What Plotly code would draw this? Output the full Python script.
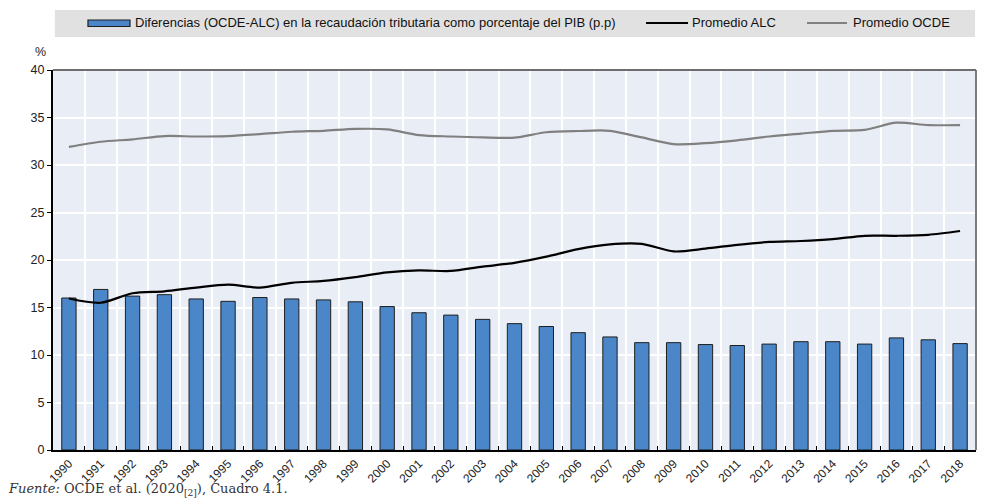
import plotly.graph_objects as go

years = [str(y) for y in range(1990, 2019)]
diferencias = [16.0, 16.9, 16.2, 16.35, 15.9, 15.65, 16.05, 15.9, 15.8, 15.6,
               15.1, 14.45, 14.2, 13.75, 13.3, 13.0, 12.35, 11.9, 11.3, 11.3,
               11.1, 11.0, 11.15, 11.4, 11.4, 11.15, 11.8, 11.6, 11.2]
promedio_alc = [15.95, 15.5, 16.5, 16.7, 17.1, 17.4, 17.1, 17.6, 17.8, 18.2,
                18.7, 18.9, 18.85, 19.3, 19.7, 20.35, 21.15, 21.65, 21.7, 20.9,
                21.2, 21.6, 21.9, 22.0, 22.2, 22.55, 22.55, 22.65, 23.05]
promedio_ocde = [31.9, 32.45, 32.7, 33.05, 33.0, 33.05, 33.25, 33.5, 33.6, 33.8,
                 33.75, 33.15, 33.0, 32.9, 32.88, 33.45, 33.58, 33.6, 32.9, 32.2,
                 32.3, 32.6, 33.0, 33.3, 33.6, 33.7, 34.45, 34.2, 34.2]
y_ticks = [0, 5, 10, 15, 20, 25, 30, 35, 40]

name_bar = "Diferencias (OCDE-ALC) en la recaudación tributaria como porcentaje del PIB (p.p)"
name_alc = "Promedio ALC"
name_ocde = "Promedio OCDE"

BAR_COLOR = "#4A86C8"
BAR_EDGE = "#1f1f1f"
ALC_COLOR = "#000000"
OCDE_COLOR = "#808080"

fig = go.Figure()
fig.add_trace(go.Bar(
    x=years, y=diferencias, name=name_bar,
    marker=dict(color=BAR_COLOR, line=dict(color=BAR_EDGE, width=1)),
))
fig.add_trace(go.Scatter(
    x=years, y=promedio_alc, name=name_alc, mode="lines",
    line=dict(color=ALC_COLOR, width=2.2, shape="spline", smoothing=0.8),
))
fig.add_trace(go.Scatter(
    x=years, y=promedio_ocde, name=name_ocde, mode="lines",
    line=dict(color=OCDE_COLOR, width=2.2, shape="spline", smoothing=0.8),
))

legend_font = dict(family="Liberation Sans, Arial, sans-serif", size=13, color="#111")

# page body has an 8px margin; the figure is sized/offset to compensate
fig.update_layout(
    width=984, height=494,
    margin=dict(l=45, r=16, t=62, b=52, autoexpand=False),
    paper_bgcolor="white",
    plot_bgcolor="#E9EDF5",
    bargap=0.55,
    font=dict(family="Liberation Sans, Arial, sans-serif", size=12, color="#222"),
    showlegend=False,
    xaxis=dict(type="category", tickson="boundaries", ticks="inside", ticklen=4,
               tickcolor="#000", tickangle=-45, tickfont=dict(size=12, color="#222"),
               showgrid=True, gridcolor="white", gridwidth=1.5, automargin=False,
               showline=True, linecolor="#000", linewidth=2,
               range=[-0.5, 28.5]),
    yaxis=dict(range=[0, 40], tickvals=y_ticks, ticks="outside", ticklen=4, tickcolor="#000",
               tickfont=dict(size=12.5, color="#222"), automargin=False,
               showgrid=True, gridcolor="white", gridwidth=1.5,
               showline=True, linecolor="#000", linewidth=2, zeroline=False),
    shapes=[
        # legend background
        dict(type="rect", xref="paper", yref="paper", x0=0.002, x1=0.999, y0=1.087, y1=1.158,
             fillcolor="#E1E1E1", line=dict(width=0), layer="below"),
        # legend swatches
        dict(type="rect", xref="paper", yref="paper", x0=0.0379, x1=0.0834, y0=1.1145, y1=1.1316,
             fillcolor=BAR_COLOR, line=dict(color=BAR_EDGE, width=1.2), layer="above"),
        dict(type="line", xref="paper", yref="paper", x0=0.6425, x1=0.688, y0=1.1237, y1=1.1237,
             line=dict(color=ALC_COLOR, width=2.2), layer="above"),
        dict(type="line", xref="paper", yref="paper", x0=0.8169, x1=0.8602, y0=1.1237, y1=1.1237,
             line=dict(color=OCDE_COLOR, width=2.2), layer="above"),
        # top / right frame
        dict(type="line", xref="paper", yref="paper", x0=0, x1=1, y0=1, y1=1,
             line=dict(color="#6e6e6e", width=1.8), layer="above"),
        dict(type="line", xref="paper", yref="paper", x0=1, x1=1, y0=0, y1=1,
             line=dict(color="#6e6e6e", width=1.8), layer="above"),
    ],
    annotations=[
        dict(text=name_bar, xref="paper", yref="paper", x=0.0867, y=1.1237, showarrow=False,
             xanchor="left", yanchor="middle", font=legend_font),
        dict(text=name_alc, xref="paper", yref="paper", x=0.690, y=1.1237, showarrow=False,
             xanchor="left", yanchor="middle", font=legend_font),
        dict(text=name_ocde, xref="paper", yref="paper", x=0.8646, y=1.1237, showarrow=False,
             xanchor="left", yanchor="middle", font=legend_font),
        dict(text="%", xref="paper", yref="paper", x=-0.014, y=1.047, showarrow=False,
             xanchor="center", yanchor="middle", font=dict(size=12.5, color="#222")),
        dict(text="<i>Fuente:</i> OCDE et al. (2020<sub>[2]</sub>), Cuadro 4.1.",
             xref="paper", yref="paper", x=-0.051, y=-0.103, showarrow=False,
             xanchor="left", yanchor="middle",
             font=dict(family="DejaVu Serif, Liberation Serif, serif", size=13, color="#333")),
    ],
)

fig.write_html("out.html")
